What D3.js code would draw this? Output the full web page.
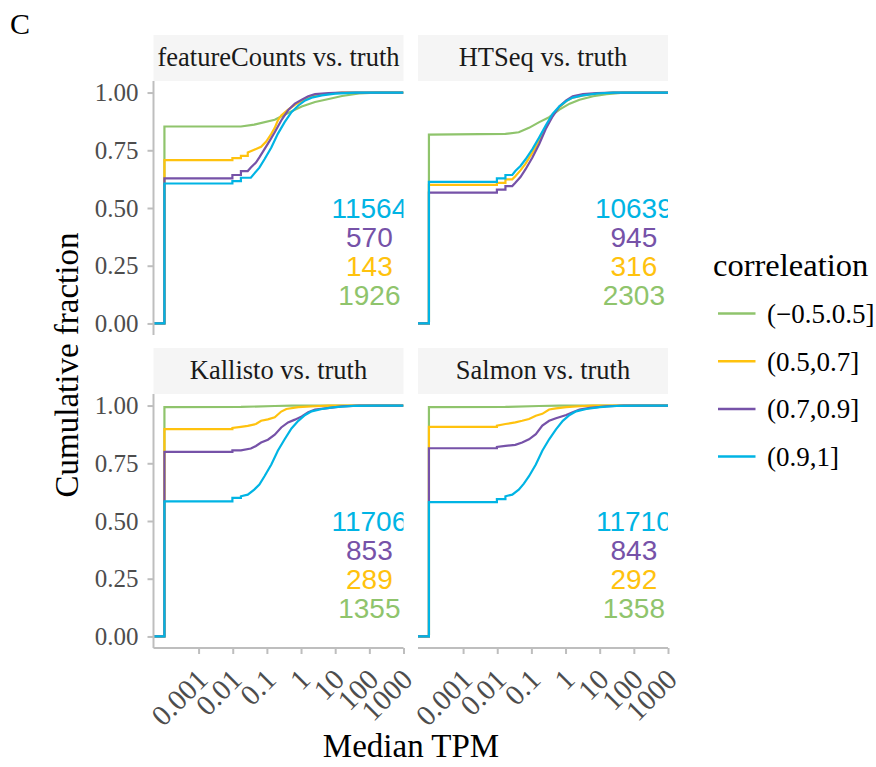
<!DOCTYPE html>
<html><head><meta charset="utf-8">
<script src="https://cdn.jsdelivr.net/npm/d3@7"></script>
<style>body{margin:0;background:#fff}</style>
</head><body><svg id="c" width="876" height="767"></svg>
<script>
// ---- data ----
const categories = ["(\u22120.5.0.5]", "(0.5,0.7]", "(0.7,0.9]", "(0.9,1]"];
const colors = ["#8fc46c", "#ffc20e", "#7652a8", "#00b4e4"];
const panels = ["featureCounts vs. truth", "HTSeq vs. truth", "Kallisto vs. truth", "Salmon vs. truth"];
const counts = [
  [1926, 143, 570, 11564],
  [2303, 316, 945, 10639],
  [1355, 289, 853, 11706],
  [1358, 292, 843, 11710]
];
const xTickValues = [-3, -2, -1, 0, 1, 2, 3];
const xTickLabels = ["0.001", "0.01", "0.1", "1", "10", "100", "1000"];
const yTickValues = [0, 0.25, 0.5, 0.75, 1];
const yTickLabels = ["0.00", "0.25", "0.50", "0.75", "1.00"];
const minLog = -4; // smallest (pseudo) median TPM, log10
// ECDF curves: [log10(median TPM), cumulative fraction], per panel, per category
const featureCountsCurves = [
  [[-4,0.853],[-1.76,0.853],[-1.37,0.861],[-0.77,0.882],[-0.38,0.911],[0.02,0.940],[0.41,0.959],[0.81,0.972],[1.20,0.985],[1.70,0.996],[2.19,1.0]],
  [[-4,0.707],[-2.01,0.707],[-2.01,0.716],[-1.76,0.716],[-1.76,0.726],[-1.56,0.726],[-1.56,0.740],[-1.37,0.752],[-1.17,0.765],[-1.02,0.788],[-0.87,0.821],[-0.77,0.847],[-0.68,0.879],[-0.58,0.901],[-0.38,0.926],[-0.18,0.947],[0.02,0.963],[0.21,0.978],[0.41,0.987],[0.81,0.995],[1.20,1.0]],
  [[-4,0.628],[-2.01,0.628],[-2.01,0.643],[-1.76,0.643],[-1.76,0.660],[-1.56,0.660],[-1.47,0.675],[-1.32,0.697],[-1.22,0.719],[-1.07,0.755],[-0.92,0.791],[-0.77,0.828],[-0.58,0.879],[-0.38,0.923],[-0.18,0.952],[0.02,0.969],[0.21,0.984],[0.41,0.993],[0.81,0.998],[1.2,1.0]],
  [[-4,0.606],[-2.01,0.606],[-2.01,0.616],[-1.76,0.616],[-1.76,0.631],[-1.47,0.631],[-1.37,0.649],[-1.22,0.675],[-1.07,0.711],[-0.87,0.762],[-0.68,0.821],[-0.48,0.872],[-0.28,0.915],[-0.08,0.944],[0.12,0.966],[0.31,0.978],[0.61,0.988],[1.0,0.995],[1.6,1.0]]
];
const htseqCurves = [
  [[-4,0.818],[-1.76,0.821],[-1.37,0.828],[-1.07,0.847],[-0.77,0.872],[-0.48,0.893],[-0.18,0.926],[0.12,0.952],[0.41,0.969],[0.81,0.984],[1.2,0.993],[1.7,0.999],[2.2,1.0]],
  [[-4,0.600],[-2.01,0.600],[-2.01,0.609],[-1.76,0.609],[-1.76,0.624],[-1.56,0.624],[-1.47,0.638],[-1.32,0.663],[-1.17,0.692],[-0.97,0.740],[-0.77,0.791],[-0.58,0.850],[-0.38,0.901],[-0.18,0.937],[0.02,0.963],[0.21,0.978],[0.51,0.988],[0.91,0.995],[1.4,1.0]],
  [[-4,0.567],[-2.01,0.567],[-2.01,0.580],[-1.76,0.580],[-1.76,0.595],[-1.56,0.595],[-1.47,0.609],[-1.32,0.634],[-1.17,0.668],[-0.97,0.719],[-0.77,0.777],[-0.58,0.842],[-0.38,0.896],[-0.18,0.940],[0.02,0.966],[0.21,0.984],[0.51,0.993],[0.91,0.998],[1.4,1.0]],
  [[-4,0.613],[-2.01,0.613],[-2.01,0.628],[-1.76,0.628],[-1.76,0.643],[-1.56,0.643],[-1.47,0.660],[-1.32,0.682],[-1.17,0.711],[-0.97,0.755],[-0.77,0.806],[-0.58,0.857],[-0.38,0.908],[-0.18,0.940],[0.02,0.963],[0.21,0.978],[0.51,0.988],[0.91,0.995],[1.4,1.0]]
];
const kallistoCurves = [
  [[-4,0.993],[-1.76,0.994],[-0.77,0.998],[-0.28,1.0]],
  [[-4,0.898],[-2.01,0.898],[-2.01,0.903],[-1.76,0.908],[-1.56,0.912],[-1.32,0.920],[-1.17,0.934],[-0.97,0.940],[-0.77,0.949],[-0.58,0.974],[-0.43,0.985],[-0.08,0.993],[0.41,0.997],[0.81,1.0]],
  [[-4,0.799],[-2.01,0.799],[-2.01,0.806],[-1.76,0.806],[-1.47,0.814],[-1.32,0.825],[-1.17,0.840],[-0.97,0.852],[-0.77,0.874],[-0.58,0.905],[-0.38,0.927],[-0.18,0.939],[0.02,0.953],[0.21,0.971],[0.41,0.983],[0.71,0.988],[1.2,0.996],[1.7,1.0]],
  [[-4,0.585],[-2.01,0.585],[-2.01,0.600],[-1.76,0.600],[-1.76,0.607],[-1.56,0.614],[-1.37,0.636],[-1.22,0.658],[-1.07,0.694],[-0.87,0.745],[-0.68,0.804],[-0.48,0.854],[-0.28,0.901],[-0.08,0.934],[0.12,0.959],[0.31,0.975],[0.61,0.985],[1.0,0.993],[1.6,0.999],[2.2,1.0]]
];
const salmonCurves = [
  [[-4,0.993],[-1.76,0.994],[-0.77,0.998],[-0.18,1.0]],
  [[-4,0.908],[-2.01,0.908],[-2.01,0.913],[-1.76,0.920],[-1.47,0.927],[-1.27,0.934],[-1.07,0.942],[-0.87,0.956],[-0.68,0.964],[-0.48,0.983],[-0.28,0.988],[0.02,0.993],[0.41,0.997],[0.81,1.0]],
  [[-4,0.815],[-2.01,0.815],[-2.01,0.821],[-1.76,0.825],[-1.47,0.830],[-1.27,0.840],[-1.07,0.854],[-0.87,0.876],[-0.68,0.913],[-0.48,0.934],[-0.28,0.945],[0.02,0.959],[0.21,0.971],[0.41,0.983],[0.71,0.990],[1.2,0.997],[1.7,1.0]],
  [[-4,0.582],[-2.01,0.582],[-2.01,0.595],[-1.76,0.595],[-1.76,0.607],[-1.56,0.614],[-1.37,0.636],[-1.22,0.662],[-1.07,0.694],[-0.87,0.745],[-0.68,0.804],[-0.48,0.854],[-0.28,0.897],[-0.08,0.934],[0.12,0.959],[0.31,0.975],[0.61,0.985],[1.0,0.993],[1.6,0.999],[2.2,1.0]]
];
const curves = [featureCountsCurves, htseqCurves, kallistoCurves, salmonCurves];
const countY = [0.125, 0.25, 0.375, 0.5]; // label heights per category
const countXLog = 2;

// ---- layout ----
const serif = "Liberation Serif, Times New Roman, serif";
const sans = "Liberation Sans, Arial, sans-serif";
const svg = d3.select("#c");
svg.append("rect").attr("width", 876).attr("height", 767).attr("fill", "#fff");
const PW = 250, PH = 254, STRIP = 46;
const panelX = [153.5, 418, 153.5, 418];
const panelY = [81, 81, 394, 394];
const xDomain = [-4.32, 3.0];
const axisCol = "#bebebe", tickTextCol = "#4d4d4d";

svg.append("text").attr("x", 10).attr("y", 34).attr("font-family", serif)
  .attr("font-size", 30).attr("fill", "#000").text("C");

panels.forEach((name, p) => {
  const g = svg.append("g").attr("transform", `translate(${panelX[p]},${panelY[p]})`);
  const x = d3.scaleLinear().domain(xDomain).range([0, PW]);
  const y = d3.scaleLinear().domain([-0.05, 1.05]).range([PH, 0]);
  // strip
  g.append("rect").attr("x", 0).attr("y", -STRIP).attr("width", PW).attr("height", STRIP).attr("fill", "#f5f5f5");
  g.append("text").attr("x", PW / 2).attr("y", -STRIP / 2).attr("dy", "0.32em")
    .attr("text-anchor", "middle").attr("font-family", serif).attr("font-size", 26.5)
    .attr("fill", "#1a1a1a").text(name);
  const clipId = "clip" + p;
  g.append("clipPath").attr("id", clipId).append("rect").attr("width", PW).attr("height", PH);
  const body = g.append("g").attr("clip-path", `url(#${clipId})`);
  const line = d3.line().x(d => x(d[0])).y(d => y(d[1]));
  curves[p].forEach((pts, c) => {
    const full = [[xDomain[0], 0], [minLog, 0]].concat(pts).concat([[xDomain[1], 1]]);
    body.append("path").attr("d", line(full)).attr("fill", "none")
      .attr("stroke", colors[c]).attr("stroke-width", 2.2);
  });
  counts[p].forEach((n, c) => {
    body.append("text").attr("x", x(countXLog)).attr("y", y(countY[c])).attr("dy", "0.36em")
      .attr("text-anchor", "middle").attr("font-family", sans).attr("font-size", 28)
      .attr("fill", colors[c]).text(n);
  });
  // y axis on left panels
  if (p % 2 === 0) {
    const ya = d3.axisLeft(y).tickValues(yTickValues).tickFormat((d, i) => yTickLabels[i]).tickSize(6).tickPadding(9);
    const ag = g.append("g").call(ya);
    ag.select(".domain").attr("d", `M0,0V${PH}`).attr("stroke", axisCol).attr("stroke-width", 2);
    ag.selectAll(".tick line").attr("stroke", axisCol).attr("stroke-width", 2);
    ag.selectAll(".tick text").attr("font-family", serif).attr("font-size", 25).attr("fill", tickTextCol);
  }
  // x axis on bottom panels
  if (p >= 2) {
    const xa = d3.axisBottom(x).tickValues(xTickValues).tickFormat((d, i) => xTickLabels[i]).tickSize(6).tickPadding(0);
    const ag = g.append("g").attr("transform", `translate(0,${PH})`).call(xa);
    ag.select(".domain").attr("d", `M0,0H${PW}`).attr("stroke", axisCol).attr("stroke-width", 2);
    ag.selectAll(".tick line").attr("stroke", axisCol).attr("stroke-width", 2);
    ag.selectAll(".tick text").attr("font-family", serif).attr("font-size", 29).attr("fill", tickTextCol)
      .attr("text-anchor", "end").attr("y", 0).attr("dy", "0.7em")
      .attr("transform", "translate(-4,19) rotate(-45)");
  }
});

// axis titles
svg.append("text").attr("transform", "translate(78,365) rotate(-90)").attr("text-anchor", "middle")
  .attr("font-family", serif).attr("font-size", 33).attr("fill", "#000").text("Cumulative fraction");
svg.append("text").attr("x", 411).attr("y", 757).attr("text-anchor", "middle")
  .attr("font-family", serif).attr("font-size", 33).attr("fill", "#000").text("Median TPM");

// legend
const lg = svg.append("g");
lg.append("text").attr("x", 713).attr("y", 276).attr("font-family", serif).attr("font-size", 32.5)
  .attr("fill", "#000").text("correleation");
categories.forEach((cat, i) => {
  const yy = 313.5 + i * 47.7;
  lg.append("line").attr("x1", 718).attr("x2", 755.5).attr("y1", yy).attr("y2", yy)
    .attr("stroke", colors[i]).attr("stroke-width", 2.5);
  lg.append("text").attr("x", 767).attr("y", yy).attr("dy", "0.35em").attr("font-family", serif)
    .attr("font-size", 27).attr("fill", "#000").text(cat);
});
</script></body></html>
